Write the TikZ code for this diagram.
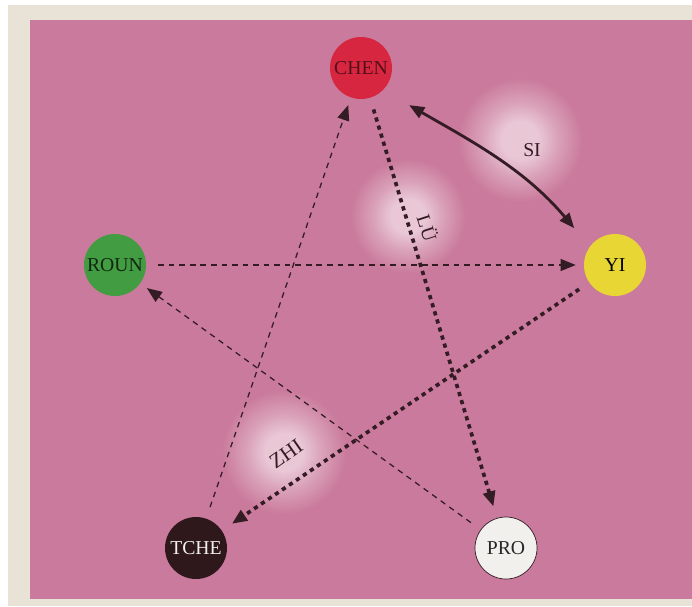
\documentclass[tikz,border=0pt]{standalone}
\usepackage{fontspec}
\setmainfont{Liberation Serif}
\usetikzlibrary{arrows.meta}

\definecolor{bgpink}{RGB}{202,122,156}
\definecolor{paper}{RGB}{232,227,214}
\definecolor{ink}{RGB}{52,28,36}
\definecolor{chenred}{RGB}{214,38,64}
\definecolor{roungreen}{RGB}{66,156,66}
\definecolor{yiyellow}{RGB}{232,214,52}
\definecolor{tchebrown}{RGB}{46,24,28}
\definecolor{prowhite}{RGB}{242,240,236}
\colorlet{halocore}{bgpink!42!white}
\colorlet{halomid}{bgpink!70!white}

\pgfdeclareradialshading{halo}{\pgfpoint{0bp}{0bp}}{%
  color(0bp)=(halocore); color(6bp)=(halocore); color(12bp)=(halomid);
  color(20bp)=(bgpink); color(50bp)=(bgpink)}

\tikzset{
  element/.style={circle,minimum width=1.55cm,inner sep=0pt,font=\fontsize{14}{16}\selectfont},
  tip/.style={-{Triangle[length=0.38cm,width=0.3cm]}},
  thinlink/.style={tip,draw=ink,line width=0.9pt,dash pattern=on 4pt off 3.5pt,shorten <=0.3cm,shorten >=0.2cm},
  boldlink/.style={tip,draw=ink,line width=2.6pt,dash pattern=on 3pt off 3pt,shorten <=0.3cm,shorten >=0.3cm},
  glow/.style={shading=halo}
}

\begin{document}
\begin{tikzpicture}

\useasboundingbox (0,0) rectangle (17.3,-15.15);
\fill[paper] (0,0) rectangle (17.3,-15.15);
\fill[white] (0,0) rectangle (17.3,-0.12);
\fill[white] (0,0) rectangle (0.2,-15.15);
\fill[bgpink] (0.75,-0.5) rectangle (17.3,-14.97);

% halos behind the labels
\shade[glow] (13.0,-3.5) circle (1.95);
\shade[glow] (10.2,-5.4) circle (1.8);
\shade[glow] (7.1,-11.3) circle (1.95);

\node[element,fill=chenred,text=chenred!40!black] at (9.025,-1.7) (chen) {CHEN};
\node[element,fill=roungreen,text=roungreen!25!black] at (2.875,-6.625) (roun) {ROUN};
\node[element,fill=yiyellow,text=black] at (15.375,-6.625) (yi) {YI};
\node[element,fill=tchebrown,text=prowhite] at (4.9,-13.7) (tche) {TCHE};
\node[element,fill=prowhite,draw=ink,line width=0.5pt,text=black!85] at (12.65,-13.7) (pro) {PRO};

\path[thinlink] (roun) to (yi);
\path[thinlink] (pro) to (roun);
\path[thinlink] (tche) to (chen);
\path[boldlink] (chen) to (pro);
\path[boldlink] (yi) to (tche);
\path[{Triangle[length=0.38cm,width=0.3cm]}-{Triangle[length=0.38cm,width=0.3cm]},draw=ink,line width=2pt,shorten <=0.75cm,shorten >=0.6cm]
  (chen.-45) to[out=-30,in=130] (yi.144);

\node[font=\fontsize{14}{16}\selectfont,text=ink] at (13.3,-3.75) (si) {SI};
\node[font=\fontsize{14}{16}\selectfont,text=ink,rotate=-72] at (10.7,-5.7) (lu) {LÜ};
\node[font=\fontsize{15}{17}\selectfont,text=ink,rotate=35] at (7.15,-11.35) (zhi) {ZHI};

\end{tikzpicture}
\end{document}
